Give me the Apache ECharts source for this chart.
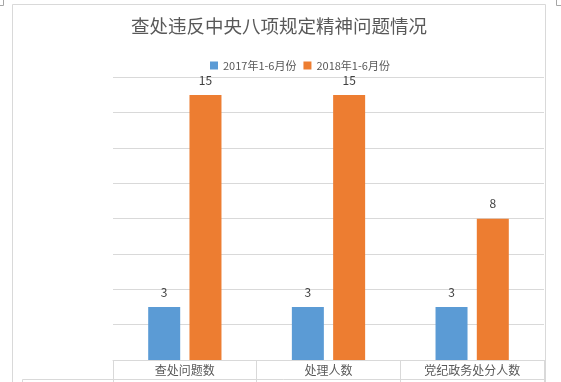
<!DOCTYPE html>
<html>
<head>
<meta charset="utf-8">
<script src="https://cdn.jsdelivr.net/npm/echarts@6/dist/echarts.min.js"></script>
<style>
html,body{margin:0;padding:0;background:#fff;}
#chart{width:561px;height:382px;}
</style>
</head>
<body>
<div id="chart"></div>
<script>
const titleText = '查处违反中央八项规定精神问题情况';
const categories = ['查处问题数', '处理人数', '党纪政务处分人数'];
const seriesNames = ['2017年1-6月份', '2018年1-6月份'];
const values2017 = [3, 3, 3];
const values2018 = [15, 15, 8];
const yTicks = [0, 2, 4, 6, 8, 10, 12, 14, 16];

const FONT = '"Noto Sans CJK SC", "Noto Sans", sans-serif';
const GRID_C = '#d9d9d9';
const chart = echarts.init(document.getElementById('chart'), null, {renderer: 'canvas'});

const label = {
  show: true, position: 'top', distance: 9,
  color: '#404040', fontSize: 12, fontFamily: FONT
};

chart.setOption({
  animation: false,
  backgroundColor: '#ffffff',
  title: {
    text: titleText,
    left: 131, top: 17, padding: 0,
    textStyle: {fontSize: 18.5, fontWeight: 'normal', color: '#595959', fontFamily: FONT}
  },
  legend: {
    data: seriesNames,
    left: 210, top: 60, padding: 0,
    itemWidth: 8, itemHeight: 8, itemGap: 7,
    icon: 'rect',
    textStyle: {fontSize: 11, color: '#595959', fontFamily: FONT}
  },
  grid: {left: 113, right: 17, top: 77.3, bottom: 22, containLabel: false},
  xAxis: {
    type: 'category',
    data: categories,
    boundaryGap: true,
    axisLine: {show: true, lineStyle: {color: GRID_C, width: 1}},
    axisTick: {show: true, length: 22, lineStyle: {color: GRID_C, width: 1}},
    axisLabel: {margin: 4, fontSize: 12, color: '#595959', fontFamily: FONT}
  },
  yAxis: {
    type: 'value',
    min: yTicks[0], max: yTicks[yTicks.length - 1], interval: yTicks[1] - yTicks[0],
    axisLine: {show: false}, axisTick: {show: false}, axisLabel: {show: false},
    splitLine: {show: true, lineStyle: {color: GRID_C, width: 1}}
  },
  graphic: [
    {type: 'polyline', shape: {points: [[12.5, 390], [12.5, 4.5], [545.5, 4.5], [545.5, 390]]}, style: {stroke: GRID_C, fill: null, lineWidth: 1}, silent: true},
    {type: 'polyline', shape: {points: [[22.5, 390], [22.5, 379.5], [544, 379.5]]}, style: {stroke: GRID_C, fill: null, lineWidth: 1}, silent: true},
    {type: 'polyline', shape: {points: [[0, 5.5], [3.5, 5.5], [3.5, 0]]}, style: {stroke: '#a6a6a6', fill: null, lineWidth: 1}, silent: true},
    {type: 'polyline', shape: {points: [[561, 5.5], [556.5, 5.5], [556.5, 0]]}, style: {stroke: '#a6a6a6', fill: null, lineWidth: 1}, silent: true}
  ],
  series: [
    {name: seriesNames[0], type: 'bar', data: values2017, barWidth: 32, barGap: '29%', barCategoryGap: '49%',
     itemStyle: {color: '#5b9bd5'}, label: label},
    {name: seriesNames[1], type: 'bar', data: values2018, barWidth: 32, barGap: '29%', barCategoryGap: '49%',
     itemStyle: {color: '#ed7d31'}, label: label}
  ]
});
</script>
</body>
</html>
